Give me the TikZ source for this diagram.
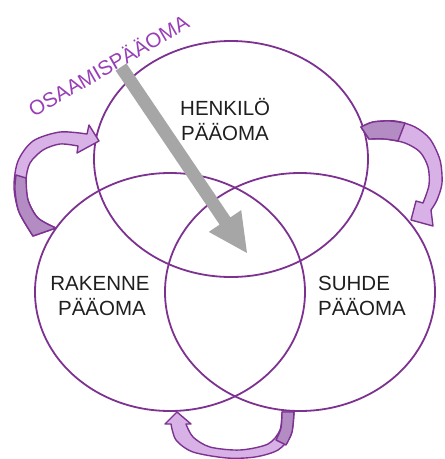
\documentclass[tikz,border=0pt]{standalone}
\usepackage{fontspec}
\setmainfont{Liberation Sans}
\definecolor{circ}{RGB}{125,50,145}
\definecolor{alight}{RGB}{216,178,230}
\definecolor{adark}{RGB}{178,140,194}
\definecolor{osa}{RGB}{152,62,182}
\definecolor{grayarr}{RGB}{166,166,166}
\tikzset{
  ring/.style={draw=circ, line width=1.8pt},
  band/.style={draw=circ, line width=1.4pt, fill=alight, line join=round},
  bandback/.style={draw=circ, line width=1.4pt, fill=adark, line join=round},
  lbl/.style={inner sep=0pt, font=\fontsize{20.5}{24}\selectfont, text=black!88},
}
\begin{document}
\begin{tikzpicture}[x=1pt,y=-1pt]
\useasboundingbox (0,0) rectangle (445,459);
% circles
\draw[ring] (231,159) ellipse [x radius=137, y radius=118];
\draw[ring] (170,292) ellipse [x radius=135, y radius=119];
\draw[ring] (300,292) ellipse [x radius=135, y radius=119];
% left curved arrow
\path[band] (33,236) -- plot[smooth] coordinates {(33,236) (19,212) (14,187) (18,161) (33,141) (60,132) (87,134)}
  -- (89,125) -- (99,141) -- (77,153)
  -- plot[smooth] coordinates {(78,146) (60,144) (43,150) (30,163) (26,180) (28,200) (38,218) (56,228)} -- cycle;
\path[bandback] (33,236) -- plot[smooth] coordinates {(33,236) (19,212) (15,190) (16,175)}
  -- plot[smooth] coordinates {(26,178) (28,200) (38,218) (56,228)} -- cycle;
% right curved arrow
\path[band] (361,127) -- plot[smooth] coordinates {(361,127) (373,122) (395,121) (415,127) (430,139) (440,160) (442,183) (437,200) (431,210)}
  -- (433,226) -- (411,220) -- (416,201)
  -- plot[smooth] coordinates {(423,203) (429,185) (428,167) (420,152) (405,143) (385,139) (369,139)} -- cycle;
\path[bandback] (361,127) -- plot[smooth] coordinates {(361,127) (373,122) (390,121) (405,123)}
  -- plot[smooth] coordinates {(398,141) (385,139) (369,139)} -- cycle;
% bottom curved arrow
\path[band] (294,412) -- (282,412)
  -- plot[smooth] coordinates {(282,412) (280,430) (268,444) (240,450) (210,447) (193,437) (186,424)}
  -- (191,424) -- (177,412) -- (165,424)
  -- plot[smooth] coordinates {(171,424) (176,440) (193,452) (227,458) (255,457) (278,450) (291,435) (294,412)} -- cycle;
\path[bandback] (294,412) -- (282,412)
  -- plot[smooth] coordinates {(282,412) (281,428) (276,440)}
  -- plot[smooth] coordinates {(286,445) (292,432) (294,412)} -- cycle;
% gray arrow
\fill[grayarr] (126.4,63.4) -- (230.4,217.4) -- (241.2,210.1) -- (247,253) -- (208.8,231.9) -- (219.6,224.6) -- (115.6,70.6) -- cycle;
% labels
\node[lbl, anchor=base west] (h1) at (180,115) {HENKILÖ};
\node[lbl, anchor=base west] (h2) at (181,140) {PÄÄOMA};
\node[lbl, anchor=base] (r1) at (100,290) {RAKENNE};
\node[lbl, anchor=base] (r2) at (102,315) {PÄÄOMA};
\node[lbl, anchor=base west] (s1) at (318,290) {SUHDE};
\node[lbl, anchor=base west] (s2) at (318,315) {PÄÄOMA};
\node[inner sep=0pt, rotate=30, text=osa, font=\fontsize{20.5}{24}\selectfont] (osa) at (108,65) {OSAAMISPÄÄOMA};
\end{tikzpicture}
\end{document}
